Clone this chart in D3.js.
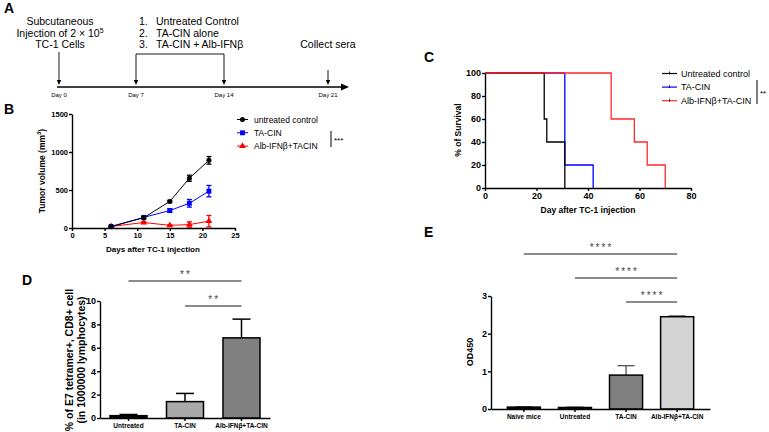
<!DOCTYPE html>
<html><head><meta charset="utf-8">
<script src="https://cdn.jsdelivr.net/npm/d3@7"></script>
<style>body{margin:0;background:#fff} svg{font-family:"Liberation Sans",Arial,sans-serif}</style>
</head><body><svg id="c" width="769" height="432"></svg>
<script>
// ---------------- DATA ----------------
// Panel A (schedule)
const timelineDays = [0, 7, 14, 21];
const timelineLabels = ["Day 0", "Day 7", "Day 14", "Day 21"];
const treatmentGroups = ["Untreated Control", "TA-CIN alone", "TA-CIN + Alb-IFNβ"];

// Panel B (tumor volume)
const tumorDays = [6, 11, 15, 18, 21];
const tumorUntreated = [18, 135, 350, 655, 890];
const tumorUntreatedErr = [5, 12, 15, 40, 50];
const tumorTACIN = [20, 140, 230, 325, 485];
const tumorTACINErr = [5, 12, 25, 50, 75];
const tumorCombo = [20, 72, 35, 45, 90];
const tumorComboErr = [5, 12, 10, 35, 75];
const tumorSeries = ["untreated control", "TA-CIN", "Alb-IFNβ+TACIN"];
const tumorXTicks = [0, 5, 10, 15, 20, 25];
const tumorYTicks = [0, 500, 1000, 1500];

// Panel C (survival)
const survSeries = ["Untreated control", "TA-CIN", "Alb-IFNβ+TA-CIN"];
const survDaysUntreated = [0, 23, 24, 31];
const survPctUntreated = [100, 60, 40, 0];
const survDaysTACIN = [0, 31, 42];
const survPctTACIN = [100, 20, 0];
const survDaysCombo = [0, 49, 58, 63, 70];
const survPctCombo = [100, 60, 40, 20, 0];
const survXTicks = [0, 20, 40, 60, 80];
const survYTicks = [0, 20, 40, 60, 80, 100];

// Panel D (tetramer)
const dCategories = ["Untreated", "TA-CIN", "Alb-IFNβ+TA-CIN"];
const dValues = [0.2, 1.4, 6.85];
const dErrors = [0.1, 0.7, 1.6];
const dYTicks = [0, 2, 4, 6, 8, 10];
const dSigFrom = [0, 1];
const dSigTo = [2, 2];
const dSigLabels = ["**", "**"];

// Panel E (OD450)
const eCategories = ["Naive mice", "Untreated", "TA-CIN", "Alb-IFNβ+TA-CIN"];
const eValues = [0.05, 0.04, 0.9, 2.45];
const eErrors = [0.01, 0.01, 0.25, 0.02];
const eYTicks = [0, 1, 2, 3];
const eSigFrom = [0, 1, 2];
const eSigTo = [3, 3, 3];
const eSigLabels = ["****", "****", "****"];

// ---------------- DRAW ----------------
const svg = d3.select("#c");
const FONT = "Liberation Sans, Arial, sans-serif";
const intFmt = d3.format("d");

function styleAxis(g, fs) {
  g.selectAll("path.domain").attr("stroke", "#000").attr("stroke-width", 1.4);
  g.selectAll(".tick line").attr("stroke", "#000").attr("stroke-width", 1.4);
  g.selectAll(".tick text").attr("fill", "#000").attr("font-size", fs)
    .attr("font-weight", "bold").attr("font-family", FONT);
}
function panelLabel(t, x, y) {
  svg.append("text").attr("x", x).attr("y", y).attr("font-size", 14)
    .attr("font-weight", "bold").text(t);
}
panelLabel("A", 4, 13);
panelLabel("B", 4, 114);
panelLabel("C", 424, 62);
panelLabel("D", 22, 285);
panelLabel("E", 424, 237);

// ---------- Panel A ----------
(function () {
  const x = d3.scaleLinear().domain(timelineDays).range([59, 136, 224, 328]);
  const yLine = 87;
  const g = svg.append("g");
  g.append("line").attr("x1", x(0) - 2).attr("x2", 341).attr("y1", yLine).attr("y2", yLine)
    .attr("stroke", "#000").attr("stroke-width", 1.6);
  g.append("path").attr("d", `M341,${yLine - 3.5}L349,${yLine}L341,${yLine + 3.5}Z`).attr("fill", "#000");
  g.selectAll("text.day").data(timelineDays).join("text")
    .attr("x", d => x(d)).attr("y", 97).attr("text-anchor", "middle")
    .attr("font-size", 6).text((d, i) => timelineLabels[i]);

  function downArrow(xx, y0) {
    g.append("line").attr("x1", xx).attr("x2", xx).attr("y1", y0).attr("y2", yLine - 6)
      .attr("stroke", "#000").attr("stroke-width", 0.9);
    g.append("path").attr("d", `M${xx - 2.2},${yLine - 7}L${xx + 2.2},${yLine - 7}L${xx},${yLine - 2}Z`).attr("fill", "#000");
  }
  downArrow(x(0), 52);
  downArrow(x(7), 54);
  downArrow(x(14), 54);
  downArrow(x(21), 70);
  g.append("line").attr("x1", x(7)).attr("x2", x(14)).attr("y1", 54).attr("y2", 54)
    .attr("stroke", "#000").attr("stroke-width", 0.9);

  const fs = 10.5;
  g.append("text").attr("x", x(0) + 1).attr("y", 25).attr("text-anchor", "middle").attr("font-size", fs).text("Subcutaneous");
  const t2 = g.append("text").attr("x", x(0) + 1).attr("y", 37).attr("text-anchor", "middle").attr("font-size", fs);
  t2.append("tspan").text("Injection of 2 × 10");
  t2.append("tspan").attr("font-size", 7).attr("dy", -4).text("5");
  g.append("text").attr("x", x(0) + 1).attr("y", 48).attr("text-anchor", "middle").attr("font-size", fs).text("TC-1 Cells");
  treatmentGroups.forEach((t, i) => {
    g.append("text").attr("x", 139).attr("y", 25 + i * 11.5).attr("font-size", fs).text((i + 1) + ".");
    g.append("text").attr("x", 156).attr("y", 25 + i * 11.5).attr("font-size", fs).text(t);
  });
  g.append("text").attr("x", x(21)).attr("y", 48).attr("text-anchor", "middle").attr("font-size", fs).text("Collect sera");
})();

// ---------- Panel B ----------
(function () {
  const x = d3.scaleLinear().domain([0, 25]).range([72, 235]);
  const y = d3.scaleLinear().domain([0, 1500]).range([228, 114]);
  const gx = svg.append("g").attr("transform", "translate(0,228)")
    .call(d3.axisBottom(x).tickValues(tumorXTicks).tickFormat(intFmt).tickSize(3).tickSizeOuter(0).tickPadding(2));
  styleAxis(gx, 7.5);
  const gy = svg.append("g").attr("transform", "translate(72,0)")
    .call(d3.axisLeft(y).tickValues(tumorYTicks).tickFormat(intFmt).tickSize(3).tickSizeOuter(0).tickPadding(1));
  styleAxis(gy, 7.5);

  svg.append("text").attr("x", 153).attr("y", 252).attr("text-anchor", "middle")
    .attr("font-size", 8).attr("font-weight", "bold").text("Days after TC-1 injection");
  const yt = svg.append("text").attr("transform", "translate(45,171) rotate(-90)").attr("text-anchor", "middle")
    .attr("font-size", 8.5).attr("font-weight", "bold");
  yt.append("tspan").text("Tumor volume (mm");
  yt.append("tspan").attr("font-size", 6).attr("dy", -4).text("3");
  yt.append("tspan").attr("dy", 4).text(")");

  const series = [
    { vals: tumorUntreated, err: tumorUntreatedErr, color: "#000", sym: d3.symbolCircle, size: 20 },
    { vals: tumorTACIN, err: tumorTACINErr, color: "#0000ff", sym: d3.symbolSquare, size: 24 },
    { vals: tumorCombo, err: tumorComboErr, color: "#ff0000", sym: d3.symbolTriangle, size: 20 }
  ];
  const line = d3.line().x(d => x(d[0])).y(d => y(d[1]));
  series.slice().reverse().forEach(s => {
    const pts = tumorDays.map((d, i) => [d, s.vals[i], s.err[i]]);
    const g = svg.append("g");
    g.append("path").attr("d", line(pts)).attr("fill", "none").attr("stroke", s.color).attr("stroke-width", 1);
    pts.forEach(p => {
      g.append("line").attr("x1", x(p[0])).attr("x2", x(p[0])).attr("y1", y(p[1] - p[2])).attr("y2", y(p[1] + p[2]))
        .attr("stroke", s.color).attr("stroke-width", 1.3);
      [p[1] - p[2], p[1] + p[2]].forEach(v => g.append("line").attr("x1", x(p[0]) - 2.5).attr("x2", x(p[0]) + 2.5)
        .attr("y1", y(v)).attr("y2", y(v)).attr("stroke", s.color).attr("stroke-width", 1.3));
      g.append("path").attr("d", d3.symbol().type(s.sym).size(s.size)())
        .attr("transform", `translate(${x(p[0])},${y(p[1])})`).attr("fill", s.color);
    });
  });

  // legend
  series.forEach((s, i) => {
    const yy = 119.5 + i * 13.3;
    svg.append("line").attr("x1", 237).attr("x2", 248).attr("y1", yy).attr("y2", yy).attr("stroke", s.color).attr("stroke-width", 1);
    svg.append("path").attr("d", d3.symbol().type(s.sym).size(s.size)()).attr("transform", `translate(242.5,${yy})`).attr("fill", s.color);
    svg.append("text").attr("x", 254).attr("y", yy + 3).attr("font-size", 8.5).text(tumorSeries[i]);
  });
  svg.append("line").attr("x1", 331).attr("x2", 331).attr("y1", 131).attr("y2", 147).attr("stroke", "#000").attr("stroke-width", 1);
  svg.append("text").attr("x", 334).attr("y", 143).attr("font-size", 8).text("***");
})();

// ---------- Panel C ----------
(function () {
  const x = d3.scaleLinear().domain([0, 80]).range([485, 691]);
  const y = d3.scaleLinear().domain([0, 100]).range([188, 73]);
  const gx = svg.append("g").attr("transform", "translate(0,188)")
    .call(d3.axisBottom(x).tickValues(survXTicks).tickFormat(intFmt).tickSize(3).tickSizeOuter(0).tickPadding(2));
  styleAxis(gx, 9);
  const gy = svg.append("g").attr("transform", "translate(485,0)")
    .call(d3.axisLeft(y).tickValues(survYTicks).tickFormat(intFmt).tickSize(3).tickSizeOuter(0).tickPadding(1));
  styleAxis(gy, 9);
  svg.append("text").attr("x", 588).attr("y", 213).attr("text-anchor", "middle")
    .attr("font-size", 8.5).attr("font-weight", "bold").text("Day after TC-1 injection");
  svg.append("text").attr("transform", "translate(461,130) rotate(-90)").attr("text-anchor", "middle")
    .attr("font-size", 8.5).attr("font-weight", "bold").text("% of Survival");

  const curves = [
    { d: survDaysTACIN, p: survPctTACIN, color: "#0000ff" },
    { d: survDaysUntreated, p: survPctUntreated, color: "#000" },
    { d: survDaysCombo, p: survPctCombo, color: "#ff2a2a" }
  ];
  const line = d3.line().curve(d3.curveStepAfter).x(d => x(d[0])).y(d => y(d[1]));
  curves.forEach(c => {
    svg.append("path").attr("d", line(c.d.map((d, i) => [d, c.p[i]]))).attr("fill", "none")
      .attr("stroke", c.color).attr("stroke-width", 1.3);
  });
  const legendColors = ["#000", "#0000ff", "#ff2a2a"];
  survSeries.forEach((s, i) => {
    const yy = 73.5 + i * 13.6;
    svg.append("line").attr("x1", 662).attr("x2", 677).attr("y1", yy).attr("y2", yy).attr("stroke", legendColors[i]).attr("stroke-width", 1.2);
    svg.append("line").attr("x1", 669.5).attr("x2", 669.5).attr("y1", yy - 2).attr("y2", yy + 1).attr("stroke", "#000").attr("stroke-width", 0.8);
    svg.append("text").attr("x", 681).attr("y", yy + 3.2).attr("font-size", 9).text(s);
  });
  svg.append("line").attr("x1", 757).attr("x2", 757).attr("y1", 80).attr("y2", 104).attr("stroke", "#000").attr("stroke-width", 1);
  svg.append("text").attr("x", 760).attr("y", 96).attr("font-size", 8).text("**");
})();

// ---------- Panel D ----------
(function () {
  const x = d3.scaleBand().domain(dCategories).range([100, 270]).paddingInner(0.345).paddingOuter(0.177);
  const y = d3.scaleLinear().domain([0, 10]).range([418, 301]);
  const colors = ["#000", "#a9a9a9", "#808080"];
  dCategories.forEach((c, i) => {
    const cx = x(c) + x.bandwidth() / 2;
    svg.append("line").attr("x1", cx).attr("x2", cx).attr("y1", y(dValues[i])).attr("y2", y(dValues[i] + dErrors[i]))
      .attr("stroke", "#000").attr("stroke-width", 1.5);
    svg.append("line").attr("x1", cx - 9).attr("x2", cx + 9).attr("y1", y(dValues[i] + dErrors[i])).attr("y2", y(dValues[i] + dErrors[i]))
      .attr("stroke", "#000").attr("stroke-width", 1.5);
    svg.append("rect").attr("x", x(c)).attr("width", x.bandwidth()).attr("y", y(dValues[i]))
      .attr("height", y(0) - y(dValues[i])).attr("fill", colors[i]).attr("stroke", "#000").attr("stroke-width", 1.5);
  });
  const gx = svg.append("g").attr("transform", "translate(0,418)")
    .call(d3.axisBottom(x).tickSize(3).tickSizeOuter(0).tickPadding(2));
  styleAxis(gx, 6.5);
  const gy = svg.append("g").attr("transform", "translate(100,0)")
    .call(d3.axisLeft(y).tickValues(dYTicks).tickFormat(intFmt).tickSize(3).tickSizeOuter(0).tickPadding(1));
  styleAxis(gy, 9);
  const yt = svg.append("text").attr("transform", "translate(0,360) rotate(-90)").attr("text-anchor", "middle")
    .attr("font-size", 10.5).attr("font-weight", "bold");
  yt.append("tspan").attr("x", 0).attr("y", 73).text("% of E7 tetramer+, CD8+ cell");
  yt.append("tspan").attr("x", 0).attr("y", 85).text("(in 1000000 lymphocytes)");

  const sigY = [281, 306];
  dSigFrom.forEach((f, i) => {
    const x1 = x(dCategories[f]) + x.bandwidth() / 2, x2 = x(dCategories[dSigTo[i]]) + x.bandwidth() / 2;
    svg.append("line").attr("x1", x1).attr("x2", x2).attr("y1", sigY[i]).attr("y2", sigY[i]).attr("stroke", "#666").attr("stroke-width", 1.5);
    svg.append("text").attr("x", (x1 + x2) / 2 + 1).attr("y", sigY[i] - 3.5).attr("text-anchor", "middle")
      .attr("font-size", 10).attr("letter-spacing", 2).attr("fill", "#444").text(dSigLabels[i]);
  });
})();

// ---------- Panel E ----------
(function () {
  const x = d3.scaleBand().domain(eCategories).range([491, 710]).paddingInner(0.353).paddingOuter(0.32);
  const y = d3.scaleLinear().domain([0, 3]).range([409, 296]);
  const colors = ["#000", "#000", "#808080", "#d4d4d4"];
  eCategories.forEach((c, i) => {
    const cx = x(c) + x.bandwidth() / 2;
    svg.append("line").attr("x1", cx).attr("x2", cx).attr("y1", y(eValues[i])).attr("y2", y(eValues[i] + eErrors[i]))
      .attr("stroke", "#444").attr("stroke-width", 1.2);
    svg.append("line").attr("x1", cx - 8.5).attr("x2", cx + 8.5).attr("y1", y(eValues[i] + eErrors[i])).attr("y2", y(eValues[i] + eErrors[i]))
      .attr("stroke", "#444").attr("stroke-width", 1.2);
    svg.append("rect").attr("x", x(c)).attr("width", x.bandwidth()).attr("y", y(eValues[i]))
      .attr("height", y(0) - y(eValues[i])).attr("fill", colors[i]).attr("stroke", "#000").attr("stroke-width", 1.5);
  });
  const gx = svg.append("g").attr("transform", "translate(0,409)")
    .call(d3.axisBottom(x).tickSize(3).tickSizeOuter(0).tickPadding(2));
  styleAxis(gx, 6.5);
  const gy = svg.append("g").attr("transform", "translate(491,0)")
    .call(d3.axisLeft(y).tickValues(eYTicks).tickFormat(intFmt).tickSize(3).tickSizeOuter(0).tickPadding(1));
  styleAxis(gy, 9);
  svg.append("text").attr("transform", "translate(473,352) rotate(-90)").attr("text-anchor", "middle")
    .attr("font-size", 9).attr("font-weight", "bold").text("OD450");

  const sigY = [254, 278, 302];
  eSigFrom.forEach((f, i) => {
    const x1 = x(eCategories[f]) + x.bandwidth() / 2, x2 = x(eCategories[eSigTo[i]]) + x.bandwidth() / 2;
    svg.append("line").attr("x1", x1).attr("x2", x2).attr("y1", sigY[i]).attr("y2", sigY[i]).attr("stroke", "#666").attr("stroke-width", 1.5);
    svg.append("text").attr("x", (x1 + x2) / 2 + 1).attr("y", sigY[i] - 3.5).attr("text-anchor", "middle")
      .attr("font-size", 10).attr("letter-spacing", 2).attr("fill", "#444").text(eSigLabels[i]);
  });
})();
</script>
</body></html>
